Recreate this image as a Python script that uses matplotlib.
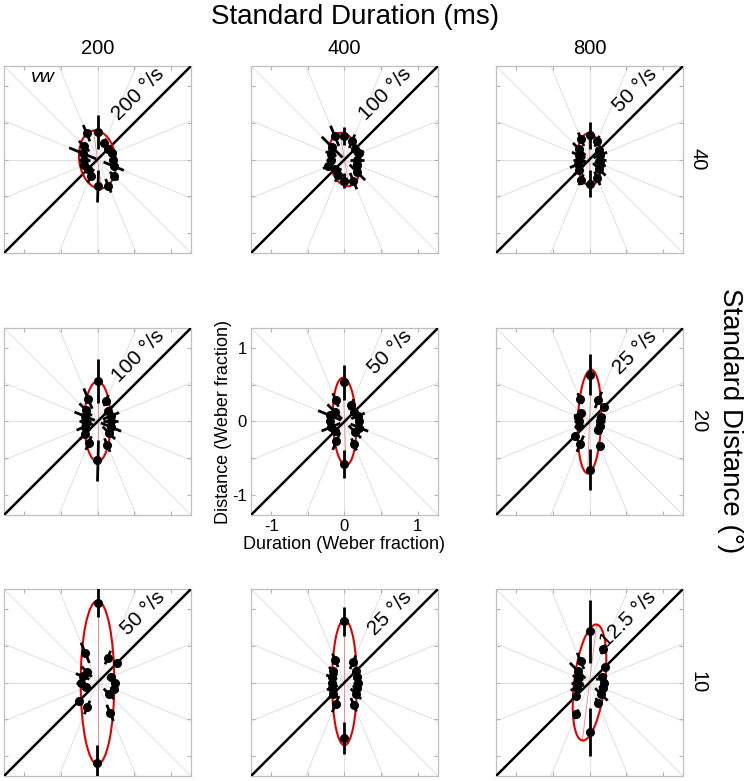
import numpy as np
import matplotlib
matplotlib.use('Agg')
import matplotlib.pyplot as plt
from matplotlib.patches import Ellipse

plt.rcParams['font.family'] = ['Liberation Sans', 'DejaVu Sans']

durations = ['200', '400', '800']
distances = ['40', '20', '10']
speed_labels = [['200 °/s', '100 °/s', '50 °/s'],
                ['100 °/s', '50 °/s', '25 °/s'],
                ['50 °/s', '25 °/s', '12.5 °/s']]

# directions of the 16 probes (deg)
angles = [0, 22.5, 45, 67.5, 90, 112.5, 135, 157.5,
          180, 202.5, 225, 247.5, 270, 292.5, 315, 337.5]

# radial thresholds (Weber fraction) per panel [row: distance][col: duration]
r_200_40 = [0.21, 0.22, 0.20, 0.25, 0.38, 0.39, 0.26, 0.22, 0.18, 0.20, 0.18, 0.24, 0.36, 0.39, 0.32, 0.24]
r_400_40 = [0.17, 0.22, 0.20, 0.27, 0.32, 0.35, 0.24, 0.20, 0.19, 0.24, 0.19, 0.23, 0.29, 0.32, 0.25, 0.19]
r_800_40 = [0.15, 0.16, 0.18, 0.27, 0.33, 0.30, 0.20, 0.16, 0.15, 0.17, 0.20, 0.30, 0.33, 0.28, 0.19, 0.16]
r_200_20 = [0.18, 0.20, 0.21, 0.31, 0.55, 0.34, 0.23, 0.19, 0.17, 0.19, 0.24, 0.32, 0.53, 0.35, 0.22, 0.20]
r_400_20 = [0.20, 0.20, 0.18, 0.25, 0.54, 0.32, 0.19, 0.22, 0.20, 0.20, 0.19, 0.29, 0.58, 0.34, 0.20, 0.22]
r_800_20 = [0.15, 0.17, 0.29, 0.32, 0.64, 0.34, 0.16, 0.17, 0.15, 0.16, 0.28, 0.33, 0.66, 0.36, 0.17, 0.16]
r_200_10 = [0.235, 0.20, 0.37, 0.37, 1.09, 0.44, 0.21, 0.22, 0.23, 0.17, 0.36, 0.37, 1.10, 0.45, 0.22, 0.25]
r_400_10 = [0.18, 0.19, 0.22, 0.30, 0.84, 0.33, 0.22, 0.19, 0.17, 0.18, 0.23, 0.32, 0.76, 0.33, 0.22, 0.18]
r_800_10 = [0.20, 0.18, 0.30, 0.49, 0.70, 0.32, 0.23, 0.17, 0.17, 0.18, 0.27, 0.47, 0.68, 0.30, 0.23, 0.20]

# half-length of the radial error bars
e_200_40 = [0.05, 0.06, 0.05, 0.06, 0.23, 0.12, 0.10, 0.20, 0.08, 0.06, 0.06, 0.10, 0.22, 0.10, 0.08, 0.15]
e_400_40 = [0.10, 0.07, 0.05, 0.10, 0.12, 0.15, 0.20, 0.08, 0.06, 0.08, 0.05, 0.10, 0.10, 0.12, 0.15, 0.06]
e_800_40 = [0.08, 0.10, 0.06, 0.08, 0.18, 0.10, 0.12, 0.10, 0.08, 0.12, 0.10, 0.08, 0.18, 0.10, 0.12, 0.08]
e_200_20 = [0.10, 0.12, 0.08, 0.08, 0.30, 0.15, 0.12, 0.15, 0.08, 0.12, 0.10, 0.10, 0.28, 0.10, 0.12, 0.15]
e_400_20 = [0.06, 0.10, 0.05, 0.08, 0.24, 0.10, 0.14, 0.17, 0.06, 0.14, 0.05, 0.13, 0.19, 0.09, 0.12, 0.13]
e_800_20 = [0.06, 0.06, 0.05, 0.12, 0.28, 0.08, 0.06, 0.06, 0.06, 0.06, 0.06, 0.12, 0.28, 0.05, 0.06, 0.06]
e_200_10 = [0.05, 0.06, 0.05, 0.10, 0.20, 0.15, 0.10, 0.10, 0.06, 0.06, 0.06, 0.10, 0.25, 0.12, 0.10, 0.06]
e_400_10 = [0.06, 0.06, 0.06, 0.10, 0.20, 0.10, 0.08, 0.08, 0.06, 0.08, 0.08, 0.12, 0.22, 0.10, 0.10, 0.06]
e_800_10 = [0.06, 0.08, 0.05, 0.07, 0.43, 0.12, 0.15, 0.08, 0.08, 0.10, 0.06, 0.07, 0.33, 0.07, 0.12, 0.06]

# fitted ellipses: semi-major, semi-minor, orientation of major axis (deg)
ell_major = [[0.40, 0.37, 0.36], [0.55, 0.60, 0.71], [1.12, 0.86, 0.80]]
ell_minor = [[0.25, 0.21, 0.17], [0.18, 0.16, 0.16], [0.23, 0.17, 0.21]]
ell_tilt = [[98, 100, 92], [90, 92, 88], [90, 90, 83]]

radii = [[r_200_40, r_400_40, r_800_40], [r_200_20, r_400_20, r_800_20], [r_200_10, r_400_10, r_800_10]]
errs = [[e_200_40, e_400_40, e_800_40], [e_200_20, e_400_20, e_800_20], [e_200_10, e_400_10, e_800_10]]

W, H = 744, 781
fig = plt.figure(figsize=(W / 100, H / 100), dpi=100)

col_x = [4, 251, 496]
row_y = [66, 328, 589]
size = 187
lim = 1.28

for i in range(3):
    for j in range(3):
        ax = fig.add_axes([col_x[j] / W, 1 - (row_y[i] + size) / H, size / W, size / H])
        ax.set_xlim(-lim, lim)
        ax.set_ylim(-lim, lim)
        # radial gray guide lines
        for a in np.arange(0, 180, 22.5):
            t = np.radians(a)
            ax.plot([-3 * np.cos(t), 3 * np.cos(t)], [-3 * np.sin(t), 3 * np.sin(t)],
                    color='0.86', lw=0.6, zorder=1)
        # unity line
        ax.plot([-lim, lim], [-lim, lim], color='black', lw=1.8, zorder=3)
        # fitted ellipse
        ax.add_patch(Ellipse((0, 0), 2 * ell_major[i][j], 2 * ell_minor[i][j], angle=ell_tilt[i][j],
                             fill=False, edgecolor='#e00000', lw=1.5, zorder=4))
        tt = np.radians(ell_tilt[i][j])
        am = ell_major[i][j]
        ax.plot([-am * np.cos(tt), am * np.cos(tt)], [-am * np.sin(tt), am * np.sin(tt)],
                color='#f08080', lw=0.6, zorder=2)
        # data with radial error bars
        th = np.radians(angles)
        r = np.array(radii[i][j])
        e = np.array(errs[i][j])
        for k in range(len(angles)):
            ax.plot([(r[k] - e[k]) * np.cos(th[k]), (r[k] + e[k]) * np.cos(th[k])],
                    [(r[k] - e[k]) * np.sin(th[k]), (r[k] + e[k]) * np.sin(th[k])],
                    color='black', lw=2.0, zorder=5, solid_capstyle='butt')
        ax.plot(r * np.cos(th), r * np.sin(th), 'o', color='black', ms=5.5, zorder=6)
        # speed label, written just above the unity line
        ax.text(0.97, 1.12, speed_labels[i][j], rotation=45, rotation_mode='anchor',
                ha='right', va='bottom', fontsize=15, zorder=7)
        ticks = [-1, -0.5, 0, 0.5, 1]
        ax.set_xticks(ticks)
        ax.set_yticks(ticks)
        ax.tick_params(direction='in', length=3, color='0.7', top=True, right=True,
                       labelsize=12, pad=3)
        for s in ax.spines.values():
            s.set_color('0.75')
            s.set_linewidth(0.9)
        if i == 1 and j == 1:
            ax.set_xticklabels(['-1', '', '0', '', '1'])
            ax.set_yticklabels(['-1', '', '0', '', '1'])
            ax.set_xlabel('Duration (Weber fraction)', fontsize=13, labelpad=1)
            ax.set_ylabel('Distance (Weber fraction)', fontsize=13, labelpad=0)
        else:
            ax.set_xticklabels([])
            ax.set_yticklabels([])
        if i == 0 and j == 0:
            ax.text(-0.75, 1.12, 'vw', fontsize=14, style='italic', ha='center', va='center')

# column / row headers
fig.text(355 / W, 1 - 17 / H, 'Standard Duration (ms)', fontsize=20, ha='center', va='center')
for j in range(3):
    fig.text((col_x[j] + size / 2) / W, 1 - 48 / H, durations[j], fontsize=14.5, ha='center', va='center')
for i in range(3):
    fig.text(698 / W, 1 - (row_y[i] + size / 2) / H, distances[i], fontsize=14.5, rotation=-90,
             ha='center', va='center')
fig.text(730 / W, 1 - 421 / H, 'Standard Distance (°)', fontsize=20, rotation=-90,
         ha='center', va='center')

fig.savefig('out.png', dpi=100)
